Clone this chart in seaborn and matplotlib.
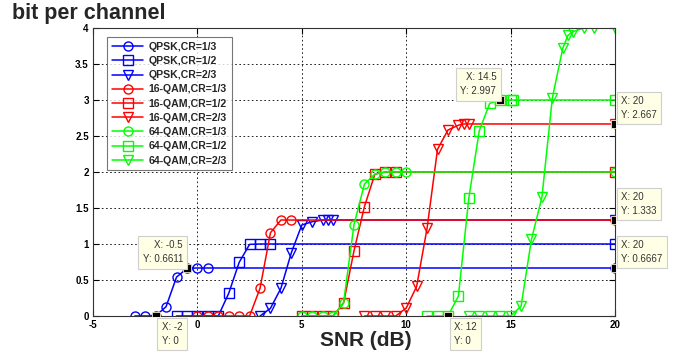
import matplotlib
matplotlib.use("Agg")
import matplotlib.pyplot as plt
import seaborn as sns
import pandas as pd

sns.set_theme(style="white")
plt.rcParams['font.family'] = ['Liberation Sans', 'DejaVu Sans']

labels = ["QPSK,CR=1/3", "QPSK,CR=1/2", "QPSK,CR=2/3",
          "16-QAM,CR=1/3", "16-QAM,CR=1/2", "16-QAM,CR=2/3",
          "64-QAM,CR=1/3", "64-QAM,CR=1/2", "64-QAM,CR=2/3"]

qpsk13_x = [-3, -2.5, -2, -1.5, -1, -0.5, 0, 0.5, 20]
qpsk13_y = [0, 0, 0, 0.13, 0.54, 0.6611, 0.6667, 0.6667, 0.6667]
qpsk12_x = [-1, -0.5, 0, 0.5, 1, 1.5, 2, 2.5, 3, 3.5, 20]
qpsk12_y = [0, 0, 0, 0, 0, 0.315, 0.745, 0.995, 1.0, 1.0, 1.0]
qpsk23_x = [3, 3.5, 4, 4.5, 5, 5.5, 6, 6.25, 6.5, 20]
qpsk23_y = [0, 0.107, 0.385, 0.88, 1.264, 1.31, 1.333, 1.333, 1.333, 1.333]

qam16_13_x = [0, 0.5, 1, 1.5, 2, 2.5, 3, 3.5, 4, 4.5, 20]
qam16_13_y = [0, 0, 0, 0, 0, 0, 0.385, 1.157, 1.333, 1.333, 1.333]
qam16_12_x = [5, 5.5, 6, 6.5, 7, 7.5, 8, 8.5, 9, 9.5, 20]
qam16_12_y = [0, 0, 0, 0, 0.18, 0.905, 1.52, 1.97, 2.0, 2.0, 2.0]
qam16_23_x = [8, 8.5, 9, 9.5, 10, 10.5, 11, 11.5, 12, 12.5, 12.75, 13, 20]
qam16_23_y = [0, 0, 0, 0, 0.11, 0.41, 1.22, 2.315, 2.583, 2.65, 2.667, 2.667, 2.667]

qam64_13_x = [5, 5.5, 6, 6.5, 7, 7.5, 8, 8.5, 9, 9.5, 10, 20]
qam64_13_y = [0, 0, 0, 0, 0.185, 1.27, 1.833, 1.97, 2.0, 2.0, 2.0, 2.0]
qam64_12_x = [11, 11.5, 12, 12.5, 13, 13.5, 14, 14.5, 15, 15.1, 20]
qam64_12_y = [0, 0, 0, 0.278, 1.64, 2.574, 2.954, 2.997, 3.0, 3.0, 3.0]
qam64_23_x = [13, 13.5, 14, 14.5, 15, 15.5, 16, 16.5, 17, 17.5, 17.75, 18, 18.5, 19, 20]
qam64_23_y = [0, 0, 0, 0, 0, 0.135, 1.065, 1.65, 3.03, 3.72, 3.9, 3.95, 4.0, 4.0, 4.0]

series_x = [qpsk13_x, qpsk12_x, qpsk23_x, qam16_13_x, qam16_12_x, qam16_23_x,
            qam64_13_x, qam64_12_x, qam64_23_x]
series_y = [qpsk13_y, qpsk12_y, qpsk23_y, qam16_13_y, qam16_12_y, qam16_23_y,
            qam64_13_y, qam64_12_y, qam64_23_y]
colors = ["#0000ff"] * 3 + ["#ff0000"] * 3 + ["#00ff00"] * 3
markers = ["o", "s", "v"] * 3

# datatips
tip_x = [-0.5, -2, 14.5, 20, 20, 20, 12]
tip_y = [0.6611, 0, 2.997, 2.667, 1.333, 0.6667, 0]
tip_text = ["X: -0.5\nY: 0.6611", "X: -2\nY: 0", "X: 14.5\nY: 2.997",
            "X: 20\nY: 2.667", "X: 20\nY: 1.333", "X: 20\nY: 0.6667", "X: 12\nY: 0"]
tip_place = ["ul", "lr", "ul", "ur", "ur", "ur", "lr"]

xticks = [-5, 0, 5, 10, 15, 20]
yticks = [0, 0.5, 1, 1.5, 2, 2.5, 3, 3.5, 4]
yticklabels = ["0", "0.5", "1", "1.5", "2", "2.5", "3", "3.5", "4"]

fig = plt.figure(figsize=(6.78, 3.6), dpi=100)
ax = fig.add_axes([93 / 678, 44 / 360, 522 / 678, 288 / 360])

for lab, xs, ys, c, m in zip(labels, series_x, series_y, colors, markers):
    df = pd.DataFrame({"x": xs, "y": ys})
    sns.lineplot(data=df, x="x", y="y", ax=ax, color=c, marker=m, markersize=6.5,
                 markerfacecolor="none", markeredgecolor=c, markeredgewidth=1.0,
                 linewidth=1.1, estimator=None, sort=False, label=lab)

tips = pd.DataFrame({"x": tip_x, "y": tip_y})
sns.scatterplot(data=tips, x="x", y="y", ax=ax, marker="s", color="black", s=30,
                edgecolor="#f0ecc0", linewidth=0.6, zorder=10, legend=False)

offs = {"ul": ((-4, 4), "right", "bottom"), "lr": ((6, -6), "left", "top"),
        "ur": ((6, 4), "left", "bottom")}
for tx, ty, tt, pl in zip(tip_x, tip_y, tip_text, tip_place):
    (dx, dy), ha, va = offs[pl]
    ax.annotate(tt, xy=(tx, ty), xytext=(dx, dy), textcoords="offset pixels",
                ha=ha, va=va, fontsize=7, color="#333333", linespacing=1.5,
                annotation_clip=False, zorder=12,
                bbox=dict(boxstyle="square,pad=0.45", fc="#ffffe6", ec="#cfcfcf", lw=0.8))

ax.set_xlim(-5, 20)
ax.set_ylim(0, 4)
ax.set_xticks(xticks)
ax.set_xticklabels([str(t) for t in xticks])
ax.set_yticks(yticks)
ax.set_yticklabels(yticklabels)
ax.tick_params(axis="both", direction="in", length=4, width=0.8, labelsize=7,
               top=True, right=True, bottom=True, left=True, pad=3, colors="black")
for lbl in ax.get_xticklabels() + ax.get_yticklabels():
    lbl.set_fontweight("bold")
ax.grid(True, color="black", linestyle=(0, (2, 3)), linewidth=0.6)
for sp in ax.spines.values():
    sp.set_color("#333333")
    sp.set_linewidth(0.8)
ax.set_facecolor("white")
ax.set_xlabel("")
ax.set_ylabel("")

leg = ax.legend(loc="upper left", bbox_to_anchor=(107 / 678, 1 - 37 / 360),
                bbox_transform=fig.transFigure, frameon=True, fancybox=False,
                edgecolor="#555555", fontsize=7.6, handlelength=3.0,
                borderpad=0.45, labelspacing=0.4, handletextpad=0.5, borderaxespad=0)
leg.get_frame().set_linewidth(0.8)
for t in leg.get_texts():
    t.set_fontweight("bold")

fig.text(12 / 678, 1 - 14 / 360, "bit per channel", fontsize=15.5, fontweight="bold",
         ha="left", va="center")
fig.text(366 / 678, 1 - 340 / 360, "SNR (dB)", fontsize=15, fontweight="bold",
         ha="center", va="center")

fig.savefig("out.png", dpi=100)
